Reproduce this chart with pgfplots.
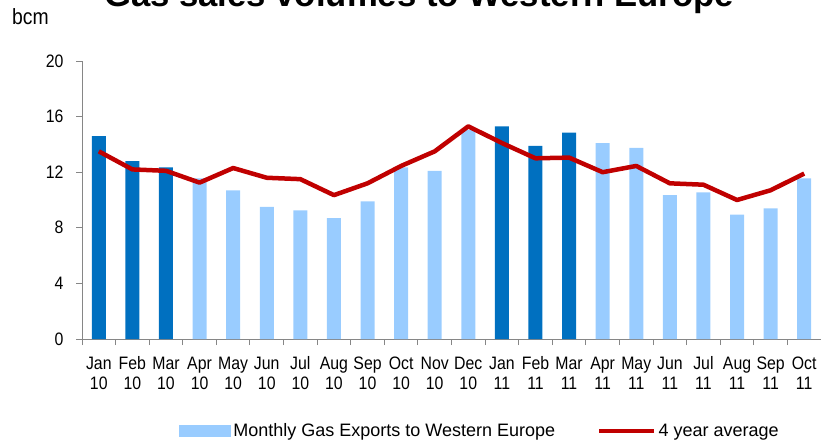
\documentclass[border=0pt]{standalone}
\usepackage{fontspec}
\setmainfont{Liberation Sans}
\newfontfamily\narrowfont{Liberation Sans}[FakeStretch=0.88]
\usepackage{pgfplots}
\pgfplotsset{compat=1.18}

\definecolor{darkbar}{HTML}{0070C0}
\definecolor{lightbar}{HTML}{99CCFF}
\definecolor{avgred}{HTML}{C00000}
\definecolor{axgray}{HTML}{868686}

\newcommand{\ml}[2]{\strut#1\\\strut#2}

\begin{document}
\begin{tikzpicture}[x=1pt,y=1pt]
\begin{axis}[
    scale only axis,
    width=739pt, height=278pt,
    at={(82pt,106pt)}, anchor=south west,
    xmin=-0.5, xmax=21.5,
    ymin=0, ymax=20,
    ytick={0,4,...,20},
    xtick={0,...,21},
    xticklabels={\ml{Jan}{10},\ml{Feb}{10},\ml{Mar}{10},\ml{Apr}{10},\ml{May}{10},\ml{Jun}{10},
                 \ml{Jul}{10},\ml{Aug}{10},\ml{Sep}{10},\ml{Oct}{10},\ml{Nov}{10},\ml{Dec}{10},
                 \ml{Jan}{11},\ml{Feb}{11},\ml{Mar}{11},\ml{Apr}{11},\ml{May}{11},\ml{Jun}{11},
                 \ml{Jul}{11},\ml{Aug}{11},\ml{Sep}{11},\ml{Oct}{11}},
    minor xtick={-0.5,0.5,...,21.5},
    axis x line*=bottom,
    axis y line*=left,
    tick align=outside,
    major tick length=6pt,
    minor tick length=6pt,
    major x tick style={draw=none},
    axis line style={axgray, line width=1pt},
    tick style={axgray, line width=1pt},
    ticklabel style={font=\narrowfont\fontsize{18}{20}\selectfont},
    xticklabel style={align=center, yshift=-7pt},
    yticklabel style={xshift=-9pt},
    /pgf/number format/assume math mode=true,
    clip=false,
    legend columns=2,
    legend style={draw=none, fill=none, at={(0.5386,-0.331)}, anchor=center,
        font=\fontsize{18}{20}\selectfont,
        /tikz/every even column/.append style={column sep=40pt}},
]
% light bars (legend entry)
\addplot[ybar, bar width=14pt, bar shift=0pt, fill=lightbar, draw=none,
    legend image code/.code={\fill[lightbar] (0pt,-6pt) rectangle (52pt,6pt);}]
    coordinates {(3,11.55) (4,10.7) (5,9.5) (6,9.25) (7,8.7) (8,9.9) (9,12.35) (10,12.1) (11,15.05)
                 (15,14.1) (16,13.75) (17,10.35) (18,10.55) (19,8.95) (20,9.4) (21,11.55)};
\addlegendentry{Monthly Gas Exports to Western Europe}
% dark bars, Jan-Mar
\addplot[ybar, bar width=14pt, bar shift=0pt, fill=darkbar, draw=none, forget plot]
    coordinates {(0,14.6) (1,12.8) (2,12.35) (12,15.3) (13,13.9) (14,14.85)};
% 4 year average
\addplot[avgred, line width=4.5pt, line join=round, mark=none,
    legend image code/.code={\draw[avgred, line width=4.5pt] (0pt,0pt) -- (55pt,0pt);}]
    coordinates {(0,13.5) (1,12.2) (2,12.1) (3,11.25) (4,12.3) (5,11.6) (6,11.5) (7,10.35) (8,11.2)
                 (9,12.45) (10,13.5) (11,15.3) (12,14.1) (13,13.0) (14,13.05) (15,12.0) (16,12.45)
                 (17,11.2) (18,11.1) (19,10.0) (20,10.7) (21,11.9)};
\addlegendentry{4 year average}
\end{axis}
\node[anchor=base, font=\bfseries\fontsize{34.7}{40}\selectfont] at (419,438) {Gas sales volumes to Western Europe};
\node[anchor=base west, inner sep=0pt, font=\narrowfont\fontsize{22}{24}\selectfont] at (12,420) {bcm};
\pgfresetboundingbox
\useasboundingbox (0,0) rectangle (821,445);
\end{tikzpicture}
\end{document}
